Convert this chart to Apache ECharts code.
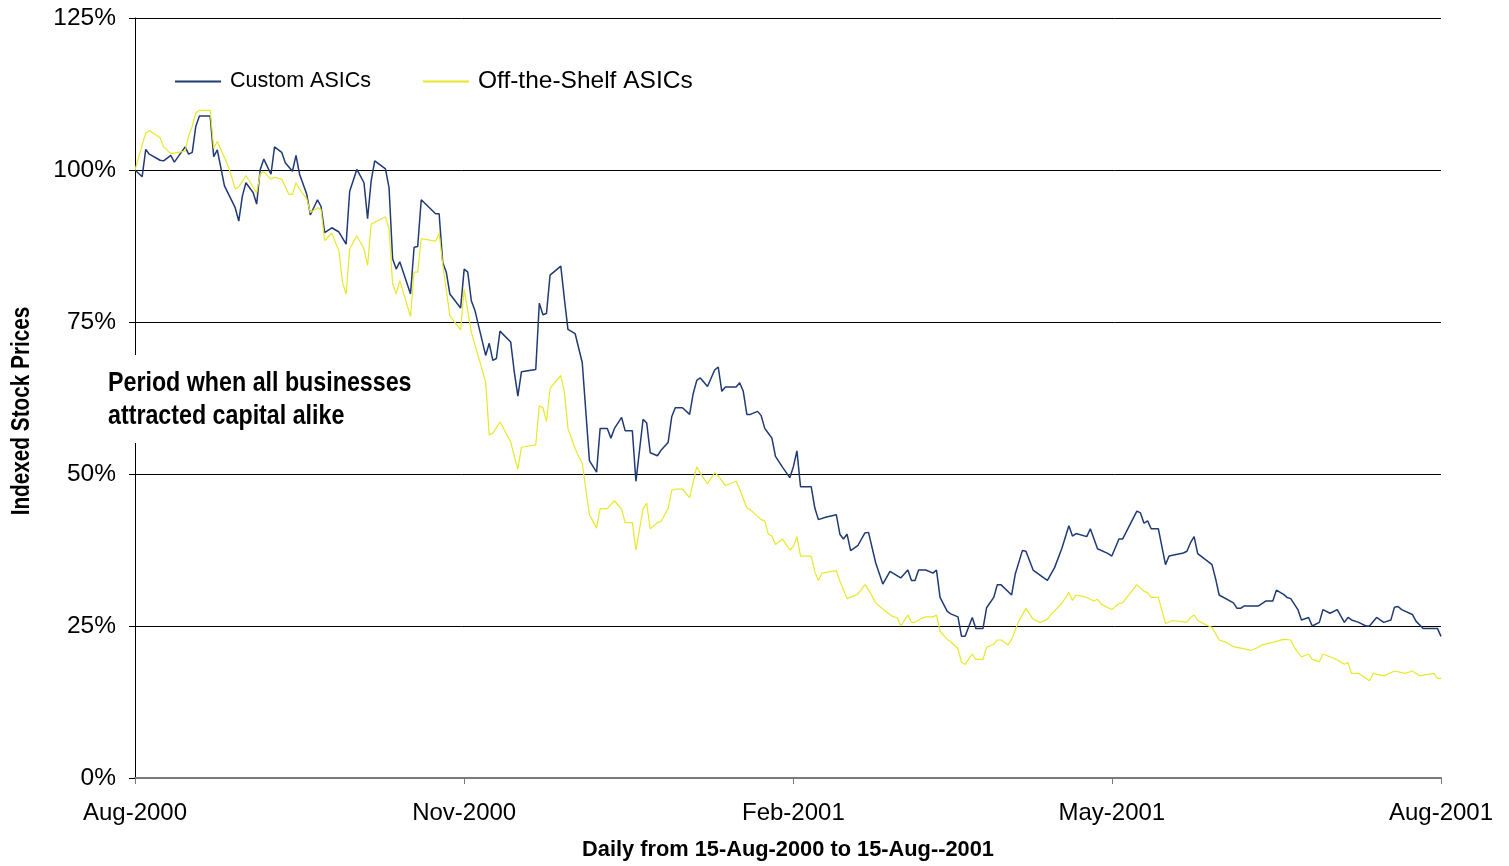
<!DOCTYPE html>
<html>
<head>
<meta charset="utf-8">
<title>Indexed Stock Prices: Custom vs Off-the-Shelf ASICs</title>
<script src="https://cdn.jsdelivr.net/npm/echarts@6/dist/echarts.min.js"></script>
<style>
  html, body { margin: 0; padding: 0; background: #ffffff; }
  #chart { width: 1509px; height: 866px; }
</style>
</head>
<body>
<div id="chart"></div>
<script>
// Days counted from 15-Aug-2000; values are stock prices indexed to 100% on that day.
const tickDays = [0, 92, 184, 273, 365];
const tickLabels = ['Aug-2000', 'Nov-2000', 'Feb-2001', 'May-2001', 'Aug-2001'];
const yTicks = [0, 25, 50, 75, 100, 125];

const customAsics = [
  [0,100.0],[2,98.9],[3,103.4],[4,102.6],[7,101.6],[8,101.5],[10,102.4],[11,101.3],[14,103.8],[15,102.6],
  [16,102.9],[17,107.2],[18,108.9],[21,108.9],[22,102.2],[23,103.3],[25,97.4],[28,93.8],[29,91.6],[30,95.7],
  [31,97.9],[33,96.3],[34,94.4],[35,100.1],[36,101.8],[38,99.3],[39,103.8],[41,102.9],[42,101.2],[44,99.8],
  [45,102.4],[46,99.3],[48,96.0],[49,92.6],[51,95.1],[52,94.0],[53,89.7],[55,90.5],[57,89.8],[59,87.8],
  [60,96.5],[62,100.1],[64,97.9],[65,92.0],[66,98.2],[67,101.5],[70,100.2],[71,97.1],[72,85.4],[73,83.7],
  [74,84.9],[77,79.6],[78,87.3],[79,87.4],[80,95.1],[84,92.8],[85,92.8],[86,84.8],[87,83.2],[88,79.6],
  [91,77.3],[92,83.7],[93,83.2],[94,78.5],[95,76.9],[98,69.5],[99,71.5],[100,68.7],[101,69.0],[102,73.5],
  [105,71.7],[106,66.8],[107,62.8],[108,66.8],[112,67.2],[113,78.1],[114,76.2],[115,76.4],[116,82.7],[119,84.2],
  [120,78.8],[121,73.8],[123,73.1],[125,68.3],[127,52.2],[129,50.3],[130,57.5],[132,57.5],[133,55.9],[134,57.5],
  [136,59.3],[137,57.1],[139,57.1],[140,48.8],[142,59.0],[143,58.4],[144,53.5],[146,53.0],[147,53.9],[149,55.2],
  [150,59.4],[151,60.9],[153,60.9],[155,59.8],[156,63.2],[157,65.4],[158,65.8],[160,64.4],[162,67.1],[163,67.6],
  [164,63.6],[165,64.3],[168,64.3],[169,65.0],[170,63.6],[171,59.8],[172,59.8],[174,60.3],[175,59.6],[176,57.5],
  [177,56.7],[178,55.9],[179,52.9],[181,51.1],[183,49.4],[184,51.2],[185,53.8],[186,47.9],[189,47.9],[190,44.4],
  [191,42.5],[193,42.9],[196,43.3],[197,40.1],[198,39.3],[199,40.1],[200,37.4],[202,38.2],[204,40.3],[205,40.4],
  [207,35.4],[209,31.9],[211,34.0],[214,32.9],[216,34.2],[217,32.5],[218,32.5],[219,34.2],[221,34.2],[223,33.7],
  [224,34.2],[225,29.7],[227,27.4],[228,27.0],[230,26.5],[231,23.3],[232,23.3],[234,26.4],[235,24.6],[237,24.6],
  [238,28.0],[240,29.7],[241,31.8],[242,31.8],[245,30.1],[246,33.5],[248,37.4],[249,37.3],[251,34.2],[254,32.9],
  [255,32.5],[257,34.6],[259,37.7],[261,41.5],[262,39.8],[263,40.2],[266,39.7],[267,41.0],[269,37.7],[272,36.9],
  [273,36.5],[275,39.3],[276,39.3],[280,43.9],[281,43.6],[282,41.9],[283,42.3],[284,41.0],[286,41.0],[288,35.1],
  [289,36.5],[293,37.0],[294,37.3],[295,38.7],[296,39.7],[297,36.9],[301,35.1],[302,32.8],[303,30.1],[307,28.8],
  [308,27.9],[309,27.9],[310,28.3],[314,28.3],[316,29.1],[318,29.1],[319,30.9],[321,30.2],[322,29.7],[323,29.5],
  [324,28.6],[325,27.7],[326,26.0],[328,26.4],[329,25.0],[331,25.6],[332,27.7],[334,27.1],[336,27.7],[338,25.6],
  [339,26.4],[340,26.0],[342,25.6],[344,25.0],[345,25.0],[347,26.4],[349,25.6],[351,26.0],[352,28.1],[353,28.2],
  [354,27.7],[357,26.9],[358,25.8],[360,24.6],[364,24.6],[365,23.3]
];

const offTheShelfAsics = [
  [0,100.0],[3,106.1],[4,106.5],[7,105.3],[8,103.8],[10,102.7],[14,103.1],[15,105.6],[16,107.2],[17,109.4],
  [18,109.8],[21,109.8],[22,103.6],[23,104.7],[26,100.7],[27,98.9],[28,96.9],[29,97.2],[31,99.1],[33,97.2],
  [34,96.2],[35,99.4],[36,99.7],[38,98.5],[39,98.8],[41,98.5],[43,96.0],[44,96.0],[45,97.9],[46,96.8],
  [48,95.3],[49,93.0],[51,93.8],[52,93.5],[53,88.4],[55,89.6],[57,86.7],[58,81.5],[59,79.6],[60,87.0],
  [62,89.2],[64,87.0],[65,84.3],[66,91.1],[70,92.3],[71,90.3],[72,81.3],[73,79.6],[74,81.8],[77,75.9],
  [78,83.2],[79,83.2],[80,88.7],[84,88.3],[85,89.6],[86,84.5],[88,76.0],[91,73.7],[92,80.4],[94,73.3],
  [97,67.2],[98,65.1],[99,56.4],[100,56.7],[102,58.6],[105,55.3],[106,52.9],[107,50.8],[108,54.4],[112,54.8],
  [113,61.2],[114,60.9],[115,58.6],[116,64.1],[119,66.2],[120,63.5],[121,57.5],[123,54.2],[125,51.7],[127,43.3],
  [129,41.1],[130,44.3],[132,44.3],[134,45.6],[136,44.2],[137,42.0],[139,42.0],[140,37.5],[142,44.3],[143,45.2],
  [144,41.0],[146,42.0],[147,42.2],[149,44.3],[150,47.3],[151,47.5],[153,47.5],[155,46.1],[157,51.2],[158,50.1],
  [160,48.4],[162,50.2],[163,49.7],[165,48.1],[168,48.8],[169,47.5],[171,44.4],[172,44.1],[175,42.5],[176,42.3],
  [177,40.1],[178,39.8],[179,38.4],[181,39.3],[183,37.5],[184,38.1],[185,39.7],[186,36.5],[189,36.5],[190,33.9],
  [191,32.5],[192,33.7],[196,34.1],[197,32.4],[199,29.5],[202,30.2],[204,31.8],[205,31.0],[207,28.8],[210,27.3],
  [212,26.5],[213,26.4],[214,25.0],[216,26.8],[217,25.6],[218,25.6],[220,26.3],[221,26.5],[223,26.5],[224,26.8],
  [225,24.1],[227,22.8],[228,22.4],[230,21.3],[231,19.0],[232,18.7],[234,20.4],[235,19.5],[237,19.5],[238,21.5],
  [240,22.0],[241,22.7],[242,22.7],[244,21.9],[245,22.8],[247,25.8],[249,27.9],[251,26.1],[253,25.6],[255,26.1],
  [256,26.9],[259,28.7],[261,30.5],[262,29.2],[263,30.1],[266,29.7],[268,29.1],[269,29.4],[270,28.6],[273,27.7],
  [275,28.7],[276,28.8],[280,31.8],[282,30.7],[283,30.5],[284,29.7],[286,29.7],[288,25.4],[290,25.9],[294,25.6],
  [295,26.4],[296,26.8],[297,25.9],[300,25.0],[301,24.8],[303,22.7],[305,22.3],[307,21.6],[312,21.0],[314,21.5],
  [315,21.9],[318,22.3],[321,22.8],[323,22.7],[324,21.5],[326,19.9],[328,20.4],[329,19.5],[331,19.1],[332,20.4],
  [335,19.7],[336,19.4],[338,18.7],[339,19.0],[340,17.2],[342,17.2],[345,16.0],[346,17.2],[349,16.8],[352,17.6],
  [355,17.2],[357,17.6],[359,16.8],[361,17.0],[363,17.2],[364,16.4],[365,16.4]
];

const FONT = "'Liberation Sans', Arial, sans-serif";
// Condensed bold captions: bold sans squeezed horizontally
const NARROW_SCALE = 0.83;

const chart = echarts.init(document.getElementById('chart'), null, { renderer: 'canvas' });

chart.setOption({
  animation: false,
  backgroundColor: '#ffffff',
  textStyle: { fontFamily: FONT, color: '#000' },
  grid: { left: 135, right: 68, top: 18, bottom: 83, containLabel: false },
  legend: {
    left: 175,
    top: 69,
    padding: 0,
    icon: 'rect',
    itemWidth: 46,
    itemHeight: 2,
    itemGap: 52,
    textStyle: { fontFamily: FONT, color: '#000', padding: [0, 0, 0, 4] },
    data: [
      { name: 'Custom ASICs', textStyle: { fontSize: 21.5 } },
      { name: 'Off-the-Shelf ASICs', textStyle: { fontSize: 24.5 } }
    ]
  },
  xAxis: {
    type: 'value',
    min: tickDays[0],
    max: tickDays[tickDays.length - 1],
    name: 'Daily from 15-Aug-2000 to 15-Aug--2001',
    nameLocation: 'middle',
    nameGap: 61,
    nameTextStyle: { fontFamily: FONT, fontSize: 21.8, fontWeight: 'bold', color: '#000' },
    axisLine: { show: true, lineStyle: { color: '#7a7a7a', width: 2 } },
    axisTick: { show: true, length: 6, customValues: tickDays, lineStyle: { color: '#7a7a7a', width: 1 } },
    axisLabel: {
      customValues: tickDays,
      margin: 23,
      fontSize: 24,
      color: '#000',
      fontFamily: FONT,
      formatter: v => tickLabels[tickDays.indexOf(v)] || ''
    },
    splitLine: { show: false }
  },
  yAxis: {
    type: 'value',
    min: yTicks[0],
    max: yTicks[yTicks.length - 1],
    interval: 25,
    axisLine: { show: true, lineStyle: { color: '#000', width: 1 } },
    axisTick: { show: true, length: 6, lineStyle: { color: '#000', width: 1 } },
    axisLabel: { formatter: '{value}%', margin: 19, fontSize: 24.5, color: '#000', fontFamily: FONT },
    splitLine: { show: true, lineStyle: { color: '#000', width: 1 } }
  },
  graphic: [
    {
      type: 'text',
      z: 100,
      x: 22,
      y: 411,
      rotation: Math.PI / 2,
      scaleX: NARROW_SCALE,
      style: {
        text: 'Indexed Stock Prices',
        fill: '#000',
        font: 'bold 25px ' + FONT,
        textAlign: 'center',
        textVerticalAlign: 'middle'
      }
    },
    {
      type: 'group',
      z: 100,
      children: [
        {
          type: 'rect',
          z: 100,
          shape: { x: 100, y: 355, width: 325, height: 88 },
          style: { fill: '#ffffff' }
        },
        {
          type: 'text',
          z: 101,
          x: 108,
          y: 383,
          scaleX: NARROW_SCALE,
          style: {
            text: 'Period when all businesses',
            fill: '#000',
            font: 'bold 28px ' + FONT,
            textAlign: 'left',
            textVerticalAlign: 'middle'
          }
        },
        {
          type: 'text',
          z: 101,
          x: 108,
          y: 416,
          scaleX: NARROW_SCALE,
          style: {
            text: 'attracted capital alike',
            fill: '#000',
            font: 'bold 28px ' + FONT,
            textAlign: 'left',
            textVerticalAlign: 'middle'
          }
        }
      ]
    }
  ],
  series: [
    {
      name: 'Custom ASICs',
      type: 'line',
      data: customAsics,
      showSymbol: false,
      symbol: 'none',
      lineStyle: { color: '#203a74', width: 1.5 },
      itemStyle: { color: '#203a74' },
      z: 3
    },
    {
      name: 'Off-the-Shelf ASICs',
      type: 'line',
      data: offTheShelfAsics,
      showSymbol: false,
      symbol: 'none',
      lineStyle: { color: '#e8e82a', width: 1.2 },
      itemStyle: { color: '#e8e82a' },
      z: 4
    }
  ]
});
</script>
</body>
</html>
